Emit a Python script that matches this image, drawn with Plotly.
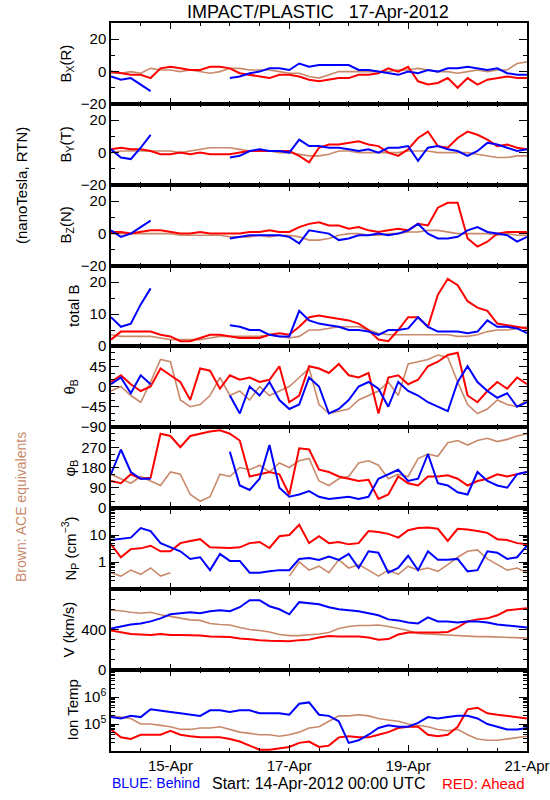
import plotly.graph_objects as go
import pandas as pd

N = None
# time grid: 14-Apr-2012 00:00 UTC, every 4 hours, 43 samples (to 21-Apr 00:00)
times = pd.date_range("2012-04-14 00:00", periods=43, freq="4h")

x_tickvals = ["2012-04-15", "2012-04-17", "2012-04-19", "2012-04-21"]
x_ticktext = ["15-Apr", "17-Apr", "19-Apr", "21-Apr"]

# ---- Bx (R) ----
bx_blue = [-3, -5, -4, -8, -12, N, N, N, N, N, N, N,
           -4, -3, -1, 0, 2, 2, 1, 5, 3, 4, 4, 4, 4, 1, 1, 0, -1, -2, 0, -1, 1, 0, 2, 2, 3, 2, 1, 2, -1, -2, -2]
bx_red = [0, -1, -2, -2, -4, 2, 3, 2, 1, 1, 3, 3, 2, -1, -2, -3, -4, -2, -2, -3, -5, -6, -5, -4, -4, -2, -2, -1, 2, 0,
          3, -6, -8, -7, -4, -10, -4, -8, -5, -4, -3, -4, -4]
bx_brown = [-1, -1, 0, -1, 2, 1, 1, 0, 1, 0, -1, 0, 2, 2, 1, 1, 1, 0, -1, -1, -3, -4, -2, 0, 0, 0, 0, 0, 0, 1,
            1, 2, 1, 0, 0, -1, 0, 1, 0, 1, 1, 5, 6]
# ---- By (T) ----
by_blue = [2, -3, -4, 3, 11, N, N, N, N, N, N, N,
           -3, -2, 1, 2, 1, 1, 0, 8, 4, 4, 3, 3, 2, 1, 2, 0, 3, 3, 4, -5, 3, 4, 2, 1, -2, 1, 6, 5, 3, 1, 2]
by_red = [2, 3, 2, 2, 1, -1, -1, 0, -1, 0, -1, -1, -1, 0, 1, 1, 1, 1, 1, -2, -6, 3, 5, 5, 6, 7, 5, 4, 0, -2,
          2, 9, 13, 4, 3, 9, 13, 11, 8, 4, 5, 3, 2]
by_brown = [0, 1, 1, 1, 1, 1, 1, 0, 1, 2, 3, 3, 3, 2, 1, 1, 1, 0, 0, -1, -2, -2, -1, 1, 1, 0, 0, 0, 0, 0,
            1, 1, 1, 0, 0, 0, 0, -1, -2, -3, -3, -2, -2]
# ---- Bz (N) ----
bz_blue = [2, -2, 0, 4, 8, N, N, N, N, N, N, N,
           -3, -2, -1, -1, -1, -1, -2, -6, 2, 1, 0, -4, -3, -1, -1, 0, -1, 0, 2, 6, 0, -3, -3, -2, 2, 4, 1, 0, -1, -5, -2]
bz_red = [1, 1, 0, 1, 2, 2, 1, 0, 0, 1, 0, 0, 0, 0, 1, 1, 2, 1, 1, 4, 6, 7, 5, 5, 3, 4, 2, 1, 2, 3,
          2, 6, 5, 16, 19, 19, -3, -8, -5, 0, 1, 1, 1]
bz_brown = [0, 0, 0, 0, 0, 0, 0, -1, -1, -1, -1, -1, -2, -2, -2, -1, -2, -1, -1, -2, -4, -4, -3, -1, 0, 0, -1, -1, 0, 0,
            1, 1, 2, 2, 1, 0, 0, 0, 0, -1, 0, -1, -1]
# ---- total B ----
bt_blue = [9, 6, 7, 13, 18, N, N, N, N, N, N, N,
           6.5, 6, 5, 5, 3.5, 3, 3, 11, 8, 7, 6.5, 6, 5, 5, 4.5, 3.5, 5, 5, 5.5, 9, 6, 4.5, 4.5, 4.5, 4, 4.5, 8, 6, 6, 5.5, 4]
bt_red = [2, 4.5, 4.5, 4.5, 4.5, 3.5, 3, 1.5, 1.5, 2.5, 3.5, 3.5, 3, 2.5, 2.5, 2.5, 3.5, 4, 3.5, 6,
          9, 9.5, 9, 8.5, 8, 7, 5, 2, 1.5, 5, 9, 9, 6, 16, 21, 19, 14, 12, 11, 7, 6.5, 6, 5.5]
bt_brown = [3.5, 3, 3, 3, 3, 2.5, 2, 2, 2, 2, 2.5, 3, 3, 3, 3, 3, 3.5, 3, 2.5, 3, 5, 5, 5.5, 6, 6, 6, 5, 4, 3.5, 3.5,
            3.5, 3.5, 3.5, 3.5, 3.5, 3, 3, 3.5, 4.5, 5, 5, 5.5, 6]
# ---- theta B ----
th_blue = [5, 20, -15, 25, 5, N, N, N, N, N, N, N,
           -20, -60, 0, -20, 10, -30, -50, -40, 20, 0, -60, -50, -30, 0, 10, -5, -45, 10, -10, -20, -35, -45, -55, 10,
           45, 10, -10, -25, -15, -45, -35]
th_red = [10, 25, 5, -10, 0, 40, 25, 10, -30, 40, 35, -5, 25, 15, 20, 10, 15, 45, -35, -20, 45, 40, 30, 50, 25, 20,
          30, -60, 20, 25, 5, 15, 45, 55, 70, 75, -20, -35, -10, 10, -5, 20, 5]
th_brown = [-10, 0, -20, -35, 10, 60, 55, -30, -45, -40, -20, 20, -20, -10, -30, 0, -20, -10, 0, 20, 40, -40, -60,
            -55, -50, -30, -20, -10, 10, -20, 50, 55, 60, 70, 65, 10, -40, -60, -50, -30, -40, -45, -30]
# ---- phi B ----
ph_blue = [150, 260, 160, 130, 130, N, N, N, N, N, N, N,
           250, 100, 80, 130, 280, 90, 50, 60, 75, 50, 40, 45, 50, 40, 50, 130, 150, 170, 120, 130, 240, 110, 100, 70,
           60, 160, 120, 100, 90, 150, 160]
ph_red = [120, 110, 150, 130, 135, 330, 320, 270, 320, 330, 340, 345, 330, 300, 140, 150, 160, 150, 60, 265, 260,
          170, 160, 140, 130, 120, 125, 40, 60, 140, 110, 100, 140, 140, 145, 130, 100, 120, 130, 150, 140, 150, 160]
ph_brown = [150, 130, 110, 140, 120, 100, 160, 150, 60, 30, 50, 150, 140, 180, 170, 190, 160, 200, 180, 210, 220,
            120, 100, 130, 140, 200, 210, 190, 130, 150, 140, 220, 240, 230, 290, 300, 280, 300, 310, 295, 305, 320, 330]
# ---- Np (cm^-3) ----
np_blue = [6.5, 7, 8, 18, 14, 5, 3.5, 2.5, 1.3, 1.5, 0.5, 2, 1.1, 1.1, 0.4, 0.4, 0.45, 0.5, 0.5, 1.3, 1.4, 1.2, 1.6,
           1.2, 2, 0.6, 2.5, 2.2, 0.4, 0.6, 1.7, 0.5, 2.5, 1.2, 1.2, 1.3, 0.45, 0.5, 2.5, 2.2, 1.3, 1.5, 4]
np_red = [4.5, 1.5, 3, 3.2, 4, 2.5, 2.5, 5, 6, 7, 3.5, 3.3, 3.3, 3.5, 5, 5.5, 3.3, 9, 10, 24, 5, 9, 5, 5.5, 4.5, 5,
          14, 13, 11, 8, 15, 18, 19, 17, 6, 17, 16, 14, 12, 7, 6.5, 5, 4.5]
np_brown = [0.4, 0.3, 0.5, 0.35, 0.6, 0.3, 0.4, N, N, N, N, N, N, N, N, N, N, N,
            0.3, 1.0, 0.5, 0.7, 0.4, 1.2, 0.6, 0.8, 0.5, 0.3, 0.5, 0.35, 0.7, 0.5, 0.6, 0.45, 0.8, 1.5, 2.5, 2.8, 1.3,
            0.8, 0.5, 0.6, 0.4]
# ---- V (km/s) ----
v_blue = [410, 430, 450, 460, 480, 510, 550, 560, 570, 560, 580, 590, 580, 620, 690, 690, 630, 600, 550, 670, 660,
          650, 620, 600, 590, 580, 560, 540, 500, 490, 470, 460, 520, 480, 480, 470, 480, 480, 470, 450, 440, 430, 420]
v_red = [390, 370, 355, 350, 345, 355, 345, 345, 345, 340, 330, 330, 325, 310, 300, 295, 290, 285, 285, 295, 300,
         320, 335, 330, 330, 330, 320, 300, 305, 350, 370, 370, 365, 370, 375, 420, 480, 500, 510, 540, 590, 600, 610]
v_brown = [590, 585, 570, 560, 570, 545, 530, 510, 495, 490, 460, 450, 445, 420, 400, 390, 375, 350, 340, 340, 345,
           355, 370, 410, 430, 440, 440, 445, 430, 410, 390, 360, 355, 345, 345, 340, 335, 330, 330, 325, 320, 315, 315]
# ---- Ion Temp (K) ----
t_blue = [1.8e5, 1.6e5, 2.0e5, 1.8e5, 3.5e5, 3.2e5, 2.8e5, 2.5e5, 2.2e5, 2.0e5, 3.2e5, 3.2e5, 2.8e5, 3.2e5, 3.2e5,
          2.5e5, 2.5e5, 2.5e5, 2.2e5, 5.6e5, 6.3e5, 2.2e5, 2.0e5, 1.26e5, 2.0e4, 2.5e4, 4.0e4, 7.1e4, 8.9e4, 7.9e4,
          7.9e4, 1.1e5, 1.8e5, 1.6e5, 1.8e5, 2.0e5, 2.0e5, 1.6e5, 1.0e5, 7.9e4, 6.3e4, 6.3e4, 7.1e4]
t_red = [6.3e4, 3.2e4, 2.8e4, 4.0e4, 4.0e4, 4.0e4, 5.6e4, 4.0e4, 3.5e4, 3.2e4, 3.2e4, 3.2e4, 2.8e4, 2.24e4, 1.58e4,
         1.12e4, 1.12e4, 1.26e4, 1.41e4, 2.0e4, 2.24e4, 1.41e4, 1.58e4, 3.2e4, 3.5e4, 3.2e4, 3.2e4, 4.0e4, 5.0e4,
         7.1e4, 7.9e4, 7.9e4, 4.0e4, 3.5e4, 4.0e4, 7.9e4, 3.5e5, 4.0e5, 2.5e5, 2.2e5, 2.0e5, 1.8e5, 1.6e5]
t_brown = [2.0e5, 1.8e5, 1.6e5, 1.0e5, 1.0e5, 8.9e4, 7.9e4, 6.3e4, 6.3e4, 7.1e4, 7.1e4, 7.9e4, 6.3e4, 5.0e4, 4.5e4,
           4.0e4, 4.0e4, 3.5e4, 4.0e4, 5.0e4, 7.1e4, 7.9e4, 1.26e5, 2.0e5, 2.0e5, 2.2e5, 2.0e5, 1.6e5, 1.4e5, 1.26e5,
           1.0e5, 8.9e4, 7.9e4, 6.3e4, 5.6e4, 6.3e4, 4.0e4, 2.8e4, 2.5e4, 2.5e4, 2.8e4, 3.2e4, 3.5e4]

BLUE, RED, BROWN = "#0000ff", "#ff0000", "#c98a6c"
FONT = "Liberation Sans"
W, H = 550, 800
X0, X1 = 111, 527
edges = [23, 104, 185, 266, 346, 427, 508, 589, 670, 751]

panels = [
    ("B<sub>X</sub>(R)", 66, (bx_brown, bx_red, bx_blue),
     dict(range=[-20, 30], tickvals=[-20, 0, 20], minor=dict(dtick=10))),
    ("B<sub>Y</sub>(T)", 66, (by_brown, by_red, by_blue),
     dict(range=[-20, 30], tickvals=[-20, 0, 20], minor=dict(dtick=10))),
    ("B<sub>Z</sub>(N)", 66, (bz_brown, bz_red, bz_blue),
     dict(range=[-20, 30], tickvals=[-20, 0, 20], minor=dict(dtick=10))),
    ("total B", 73, (bt_brown, bt_red, bt_blue),
     dict(range=[0, 25], tickvals=[0, 10, 20], minor=dict(dtick=5))),
    ("θ<sub>B</sub>", 70, (th_brown, th_red, th_blue),
     dict(range=[-90, 90], tickvals=[-90, -45, 0, 45], minor=dict(dtick=15))),
    ("φ<sub>B</sub>", 70, (ph_brown, ph_red, ph_blue),
     dict(range=[0, 360], tickvals=[0, 90, 180, 270], minor=dict(dtick=30))),
    ("N<sub>P</sub> (cm<sup>−3</sup>)", 70, (np_brown, np_red, np_blue),
     dict(type="log", range=[-1, 2], tickvals=[1, 10], ticktext=["1", "10"], minor=dict(dtick="D1"))),
    ("V (km/s)", 68, (v_brown, v_red, v_blue),
     dict(range=[0, 800], tickvals=[0, 400], minor=dict(dtick=100))),
    ("Ion Temp", 72, (t_brown, t_red, t_blue),
     dict(type="log", range=[4, 7], tickvals=[1e5, 1e6],
          ticktext=["10<sup>5</sup>", "10<sup>6</sup>"], minor=dict(dtick="D1"))),
]

fig = go.Figure()
layout = dict()
annotations = []
for k, (title, tx, series, yopts) in enumerate(panels, start=1):
    xa = "x" if k == 1 else f"x{k}"
    ya = "y" if k == 1 else f"y{k}"
    for data, color, width in zip(series, (BROWN, RED, BLUE), (1.6, 2, 2)):
        fig.add_trace(go.Scatter(x=times, y=data, mode="lines",
                                 line=dict(color=color, width=width),
                                 xaxis=xa, yaxis=ya, showlegend=False, hoverinfo="skip"))
    top, bot = edges[k - 1], edges[k]
    ydom = [1 - bot / H, 1 - top / H]
    xkey = "xaxis" if k == 1 else f"xaxis{k}"
    ykey = "yaxis" if k == 1 else f"yaxis{k}"
    layout[xkey] = dict(
        domain=[X0 / W, X1 / W], anchor=ya, type="date", automargin=False,
        range=["2012-04-14", "2012-04-21"],
        showline=True, linecolor="black", linewidth=1.5, mirror="allticks",
        ticks="inside", ticklen=6, tickcolor="black", tickwidth=1,
        tickmode="array", tickvals=x_tickvals, ticktext=x_ticktext,
        minor=dict(ticks="inside", ticklen=3, tickcolor="black", dtick=43200000, tick0="2012-04-14"),
        showgrid=False, zeroline=False, showticklabels=(k == 9),
        tickfont=dict(family=FONT, size=15, color="black"),
    )
    ymin = yopts.pop("minor")
    ya_cfg = dict(
        domain=ydom, anchor=xa, automargin=False,
        showline=True, linecolor="black", linewidth=1.5, mirror="allticks",
        ticks="inside", ticklen=8, tickcolor="black", tickwidth=1,
        tickmode="array", showgrid=False, zeroline=False,
        tickfont=dict(family=FONT, size=15, color="black"),
        minor=dict(ticks="inside", ticklen=4, tickcolor="black", **ymin),
    )
    ya_cfg.update(yopts)
    layout[ykey] = ya_cfg
    annotations.append(dict(text=title, x=tx / W, y=1 - (top + bot) / 2 / H, xref="paper", yref="paper",
                            textangle=-90, xanchor="center", yanchor="middle", showarrow=False,
                            font=dict(family=FONT, size=15, color="black")))

annotations += [
    dict(text="(nanoTesla, RTN)", x=21 / W, y=1 - 186 / H, xref="paper", yref="paper", textangle=-90,
         xanchor="center", yanchor="middle", showarrow=False, font=dict(family=FONT, size=15, color="black")),
    dict(text="Brown: ACE equivalents", x=21 / W, y=1 - 507 / H, xref="paper", yref="paper", textangle=-90,
         xanchor="center", yanchor="middle", showarrow=False, font=dict(family=FONT, size=14, color=BROWN)),
    dict(text="BLUE: Behind", x=110 / W, y=1 - 783 / H, xref="paper", yref="paper",
         xanchor="left", yanchor="middle", showarrow=False, font=dict(family=FONT, size=14, color=BLUE)),
    dict(text="Start: 14-Apr-2012 00:00 UTC", x=318 / W, y=1 - 783 / H, xref="paper", yref="paper",
         xanchor="center", yanchor="middle", showarrow=False, font=dict(family=FONT, size=16, color="black")),
    dict(text="RED: Ahead", x=527 / W, y=1 - 783 / H, xref="paper", yref="paper",
         xanchor="right", yanchor="middle", showarrow=False, font=dict(family=FONT, size=15, color=RED)),
]

fig.update_layout(width=W, height=H, autosize=False, margin=dict(l=0, r=0, t=0, b=0, autoexpand=False),
                  paper_bgcolor="white", plot_bgcolor="white", showlegend=False,
                  title=dict(text="IMPACT/PLASTIC\u00a0\u00a0\u00a017-Apr-2012", x=318 / W, y=1 - 12 / H,
                             xref="container", yref="container", xanchor="center", yanchor="middle",
                             font=dict(family=FONT, size=18, color="black")),
                  annotations=annotations, font=dict(family=FONT), **layout)
fig.write_html("out.html",
               config={"responsive": False, "displayModeBar": False},
               post_script="document.body.style.margin='0';document.body.style.overflow='hidden';")
